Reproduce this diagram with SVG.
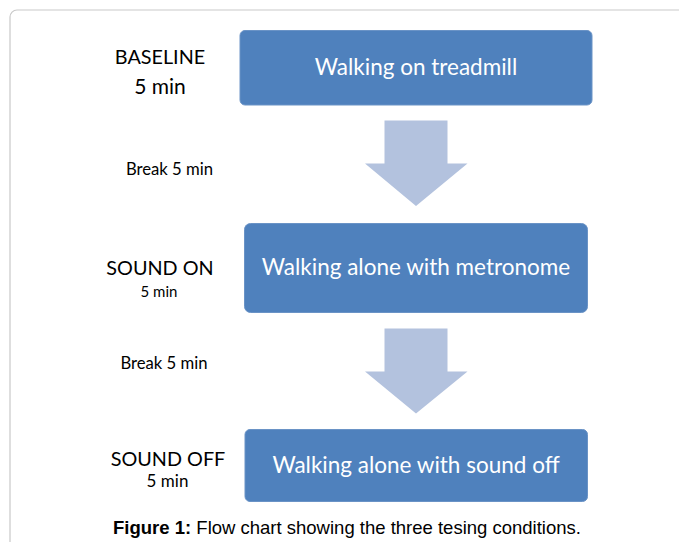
<svg xmlns="http://www.w3.org/2000/svg" width="679" height="542" viewBox="0 0 679 542">
<style>
.frame{fill:#fff;stroke:#c9c9c9;stroke-width:1.2}
.box{fill:#4f81bd;stroke:#6a93c6;stroke-width:1}
.arrow{fill:#b3c2de}
.bt{font-family:Lato,"Liberation Sans",sans-serif;fill:#fff;text-anchor:middle;font-size:22.5px}
.lb{font-family:Lato,"Liberation Sans",sans-serif;fill:#000;text-anchor:middle}
.cap{font-family:"Liberation Sans",Arial,sans-serif;font-size:18.5px;fill:#000;text-anchor:middle}
</style>
<rect class="frame" x="10" y="10" width="720" height="600" rx="7"/>
<g id="label-baseline">
<text class="lb" x="160" y="64" font-size="19.8">BASELINE</text>
<text class="lb" x="160" y="94" font-size="21">5 min</text>
</g>
<g id="label-break1"><text class="lb" x="169.5" y="175" font-size="16.7">Break 5 min</text></g>
<g id="label-soundon">
<text class="lb" x="160" y="275" font-size="19.8">SOUND ON</text>
<text class="lb" x="159" y="297" font-size="15">5 min</text>
</g>
<g id="label-break2"><text class="lb" x="164" y="369" font-size="16.7">Break 5 min</text></g>
<g id="label-soundoff">
<text class="lb" x="168" y="466" font-size="19.8">SOUND OFF</text>
<text class="lb" x="167.5" y="487" font-size="17">5 min</text>
</g>
<g id="node-treadmill">
<rect class="box" x="240" y="30.5" width="352" height="74.5" rx="5"/>
<text class="bt" x="416" y="75">Walking on treadmill</text>
</g>
<g id="node-metronome">
<rect class="box" x="244.5" y="223.5" width="343" height="89" rx="6"/>
<text class="bt" x="416" y="275">Walking alone with metronome</text>
</g>
<g id="node-soundoff">
<rect class="box" x="245" y="429.5" width="342.5" height="72" rx="5"/>
<text class="bt" x="416" y="473">Walking alone with sound off</text>
</g>
<g id="connectors">
<polygon class="arrow" points="384.5,120.5 447.5,120.5 447.5,163.5 467.5,163.5 416,206 365,163.5 384.5,163.5"/>
<polygon class="arrow" points="384.5,328.5 447.5,328.5 447.5,371.5 467.5,371.5 416,413.5 365,371.5 384.5,371.5"/>
</g>
<g id="caption">
<text class="cap" x="347" y="534"><tspan font-weight="bold">Figure 1:</tspan> Flow chart showing the three tesing conditions.</text>
</g>
</svg>
